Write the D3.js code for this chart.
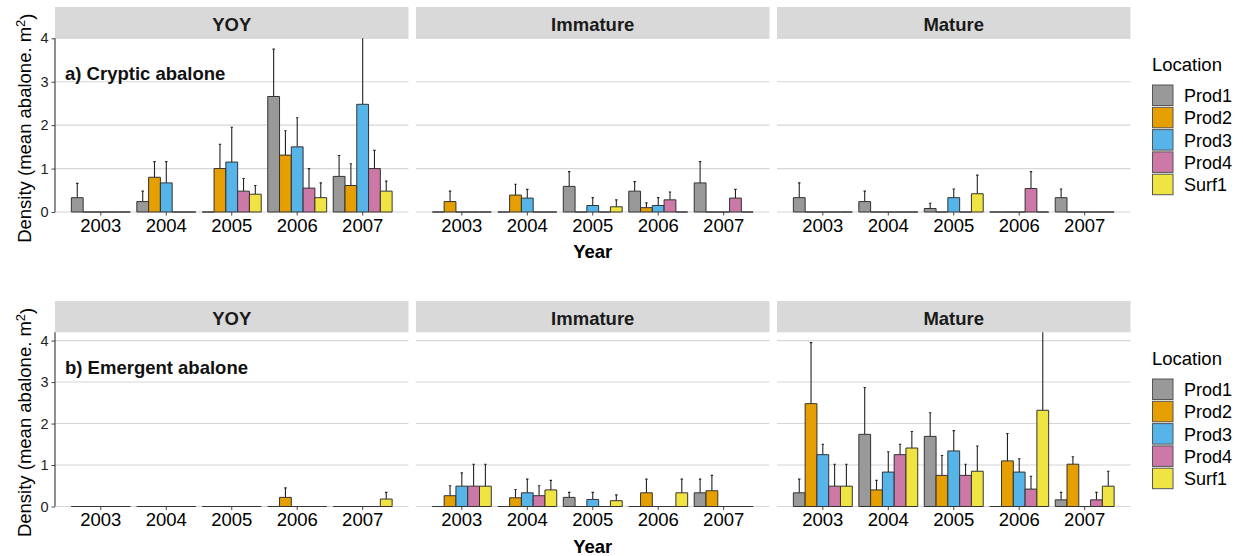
<!DOCTYPE html>
<html><head><meta charset="utf-8">
<script src="https://cdn.jsdelivr.net/npm/d3@7"></script>
<style>body{margin:0;background:#fff}svg{display:block;font-family:"Liberation Sans",Arial,sans-serif}</style>
</head><body><svg id="c" width="1243" height="556"></svg>
<script>
const years = ["2003","2004","2005","2006","2007"];
const locations = ["Prod1","Prod2","Prod3","Prod4","Surf1"];
const stages = ["YOY","Immature","Mature"];
const locationColors = ["#999999","#E69F00","#56B4E9","#CC79A7","#F0E442"];
const yTicks = [0,1,2,3,4];
const rowLabels = ["a) Cryptic abalone","b) Emergent abalone"];

// rows = years, columns = locations (Prod1, Prod2, Prod3, Prod4, Surf1)
const cryptic_YOY_mean = [[0.33,0,0,0,0],[0.24,0.80,0.67,0,0],[0,1.00,1.15,0.48,0.41],[2.66,1.31,1.50,0.55,0.33],[0.82,0.61,2.48,1.00,0.48]];
const cryptic_YOY_upper = [[0.66,0,0,0,0],[0.48,1.16,1.16,0,0],[0,1.56,1.95,0.77,0.61],[3.75,1.87,2.17,1.00,0.67],[1.30,1.11,4.30,1.42,0.71]];
const cryptic_Immature_mean = [[0,0.24,0,0,0],[0,0.39,0.32,0,0],[0.59,0,0.15,0,0.12],[0.48,0.10,0.15,0.28,0],[0.67,0,0,0.32,0]];
const cryptic_Immature_upper = [[0,0.48,0,0,0],[0,0.64,0.52,0,0],[0.93,0,0.33,0,0.28],[0.70,0.21,0.33,0.46,0],[1.16,0,0,0.52,0]];
const cryptic_Mature_mean = [[0.33,0,0,0,0],[0.24,0,0,0,0],[0.08,0,0.33,0,0.42],[0,0,0,0.54,0],[0.33,0,0,0,0]];
const cryptic_Mature_upper = [[0.67,0,0,0,0],[0.48,0,0,0,0],[0.20,0,0.53,0,0.85],[0,0,0,0.93,0],[0.53,0,0,0,0]];
const emergent_YOY_mean = [[0,0,0,0,0],[0,0,0,0,0],[0,0,0,0,0],[0,0.22,0,0,0],[0,0,0,0,0.18]];
const emergent_YOY_upper = [[0,0,0,0,0],[0,0,0,0,0],[0,0,0,0,0],[0,0.45,0,0,0],[0,0,0,0,0.34]];
const emergent_Immature_mean = [[0,0.26,0.49,0.49,0.49],[0,0.21,0.33,0.26,0.40],[0.22,0,0.17,0,0.14],[0,0.33,0,0,0.33],[0.33,0.38,0,0,0]];
const emergent_Immature_upper = [[0,0.50,0.81,1.02,1.02],[0,0.41,0.66,0.50,0.63],[0.34,0,0.34,0,0.28],[0,0.66,0,0,0.66],[0.66,0.75,0,0,0]];
const emergent_Mature_mean = [[0.33,2.48,1.25,0.49,0.49],[1.74,0.40,0.83,1.25,1.41],[1.69,0.75,1.34,0.75,0.85],[0,1.10,0.83,0.42,2.32],[0.16,1.02,0,0.16,0.49]];
const emergent_Mature_upper = [[0.66,3.95,1.50,1.02,1.02],[2.87,0.63,1.32,1.50,1.81],[2.26,1.23,1.83,1.02,1.46],[0,1.76,1.15,0.73,4.40],[0.34,1.20,0,0.34,0.85]];

const panelData = [
  [[cryptic_YOY_mean,cryptic_YOY_upper],[cryptic_Immature_mean,cryptic_Immature_upper],[cryptic_Mature_mean,cryptic_Mature_upper]],
  [[emergent_YOY_mean,emergent_YOY_upper],[emergent_Immature_mean,emergent_Immature_upper],[emergent_Mature_mean,emergent_Mature_upper]]
];

const svg = d3.select("#c");
const color = d3.scaleOrdinal().domain(locations).range(locationColors);
const panelX = [55, 416, 777], panelW = 353.5;
const rows = [
  {stripTop:7, top:38.3, bottom:212, yMax:4, legendTop:85},
  {stripTop:301, top:332.3, bottom:506.5, yMax:4.2, legendTop:379}
];
const FS = 18.5;

rows.forEach((row, ri) => {
  const y = d3.scaleLinear().domain([0,row.yMax]).range([row.bottom,row.top]);
  stages.forEach((stage, si) => {
    const x0 = panelX[si];
    const x = d3.scaleBand().domain(years).range([x0, x0+panelW]).paddingInner(0.1).paddingOuter(0.25);
    const xi = d3.scaleBand().domain(locations).range([0, x.bandwidth()]);
    const g = svg.append("g");
    // strip
    g.append("rect").attr("x",x0).attr("y",row.stripTop).attr("width",panelW).attr("height",row.top-row.stripTop).attr("fill","#d9d9d9");
    g.append("text").attr("x",x0+panelW/2).attr("y",(row.stripTop+row.top)/2+1.5).attr("dy","0.36em")
      .attr("text-anchor","middle").attr("font-weight","bold").attr("font-size",FS).attr("fill","#1a1a1a").text(stage);
    // grid
    g.selectAll("line.grid").data(yTicks).join("line").attr("x1",x0).attr("x2",x0+panelW)
      .attr("y1",d=>y(d)).attr("y2",d=>y(d)).attr("stroke","#d6d6d6").attr("stroke-width",1.1);
    // clip
    const cid = `clip${ri}${si}`;
    svg.append("clipPath").attr("id",cid).append("rect").attr("x",x0).attr("y",row.top).attr("width",panelW).attr("height",row.bottom-row.top+2);
    const pg = g.append("g").attr("clip-path",`url(#${cid})`);
    const [means, uppers] = panelData[ri][si];
    const recs = [];
    years.forEach((yr, yi) => locations.forEach((loc, li) => recs.push({yr, loc, m: means[yi][li], u: uppers[yi][li]})));
    // error bars
    const eb = recs.filter(d => d.m > 0 && d.u > d.m);
    pg.selectAll("path.eb").data(eb).join("path")
      .attr("d", d => { const cx = x(d.yr)+xi(d.loc)+xi.bandwidth()/2; return `M${cx},${y(d.m)}V${y(d.u)}M${cx-1.2},${y(d.u)}H${cx+1.2}`; })
      .attr("stroke","#222").attr("stroke-width",1.1).attr("fill","none");
    // bars
    pg.selectAll("path.bar").data(recs).join("path")
      .attr("d", d => { const bx = x(d.yr)+xi(d.loc), w = xi.bandwidth(); return `M${bx},${y(0)}V${y(d.m)}H${bx+w}V${y(0)}Z`; })
      .attr("fill", d => color(d.loc)).attr("stroke","#333").attr("stroke-width",1);
    // x axis
    const xa = g.append("g").attr("transform",`translate(0,${row.bottom})`)
      .call(d3.axisBottom(x).tickSize(3.5).tickPadding(3));
    xa.select(".domain").remove();
    xa.selectAll(".tick line").attr("stroke","#444");
    xa.selectAll(".tick text").attr("font-size",FS).attr("fill","#000").attr("font-family","Liberation Sans, Arial, sans-serif");
    if (si === 0) {
      const ya = g.append("g").attr("transform",`translate(${x0},0)`)
        .call(d3.axisLeft(y).tickValues(yTicks).tickSize(3.5).tickPadding(3).tickFormat(d3.format("d")));
      ya.select(".domain").attr("stroke","#333").attr("stroke-width",1.1).attr("d",`M0,${row.top}V${row.bottom}`);
      ya.selectAll(".tick line").attr("stroke","#444");
      ya.selectAll(".tick text").attr("font-size",14.5).attr("fill","#222").attr("font-family","Liberation Sans, Arial, sans-serif");
      g.append("text").attr("x",x0+10).attr("y",row.top+35).attr("dy","0.36em").attr("font-weight","bold")
        .attr("font-size",FS).attr("fill","#111").text(rowLabels[ri]);
    }
    if (si === 1) {
      g.append("text").attr("x",x0+panelW/2).attr("y",row.bottom+46).attr("text-anchor","middle")
        .attr("font-weight","bold").attr("font-size",FS).attr("fill","#000").text("Year");
    }
  });
  // y title
  const cy = (row.top+row.bottom)/2 + 3;
  const t = svg.append("text").attr("transform",`translate(31,${cy}) rotate(-90)`).attr("text-anchor","middle")
    .attr("font-size",FS).attr("fill","#000");
  t.append("tspan").text("Density (mean abalone. m");
  t.append("tspan").attr("dy","-0.45em").attr("font-size",13).text("2");
  t.append("tspan").attr("dy","0.45em").text(")");
  // legend
  const lg = svg.append("g");
  lg.append("text").attr("x",1152).attr("y",row.legendTop-14).attr("font-size",FS).attr("fill","#000").text("Location");
  const ks = 22.3;
  lg.selectAll("rect").data(locations).join("rect").attr("x",1152.5).attr("y",(d,i)=>row.legendTop+i*ks)
    .attr("width",20.5).attr("height",20.5).attr("fill",d=>color(d)).attr("stroke","#555").attr("stroke-width",1);
  lg.selectAll("text.l").data(locations).join("text").attr("class","l").attr("x",1184).attr("y",(d,i)=>row.legendTop+i*ks+10.5)
    .attr("dy","0.36em").attr("font-size",18).attr("fill","#000").text(d=>d);
});
</script></body></html>
